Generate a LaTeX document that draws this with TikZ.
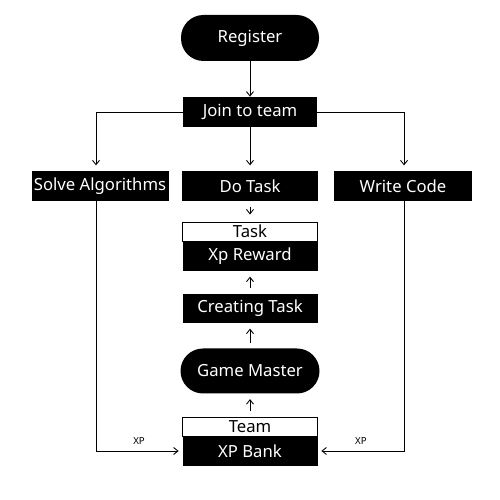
\documentclass[tikz,border=0pt]{standalone}
\usepackage{fontspec}
\setmainfont{Noto Sans}
\usetikzlibrary{arrows.meta}

\tikzset{
    pill/.style={rectangle, rounded corners=0.45cm, fill=black, text=white,
        minimum width=2.76cm, minimum height=0.92cm, font=\fontsize{9.5}{11}\selectfont},
    blackbox/.style={rectangle, fill=black, text=white, minimum width=2.72cm,
        minimum height=0.6cm, inner sep=0pt, font=\fontsize{9.5}{11}\selectfont},
    headbox/.style={rectangle, draw=black, line width=0.5pt, fill=white, minimum width=2.7cm,
        minimum height=0.38cm, inner sep=0pt, font=\fontsize{9.5}{11}\selectfont},
    link/.style={->, >={Straight Barb[length=2.5pt, width=4pt]}, line width=0.5pt},
    xplabel/.style={midway, above, font=\fontsize{5.5}{6}\selectfont},
}

\begin{document}
\begin{tikzpicture}
                \useasboundingbox (0, 0) rectangle (10, 10);

                \node[pill] (register) at (5, 9.24) {Register};
                \node[blackbox, minimum width=2.68cm] (join) at (5, 7.76) {Join to team};

                \node[blackbox, minimum width=2.74cm] (solve) at (2, 6.28) {Solve Algorithms};
                \node[blackbox] (do) at (5, 6.28) {Do Task};
                \node[blackbox, minimum width=2.76cm] (write) at (8.06, 6.28) {Write Code};

                \node[headbox] (task) at (5, 5.37) {Task};
                \node[blackbox, minimum width=2.7cm] (reward) at (5, 4.88) {Xp Reward};

                \node[blackbox, minimum width=2.7cm, minimum height=0.58cm] (creating) at (5, 3.83) {Creating Task};

                \node[pill, minimum width=2.78cm, minimum height=0.9cm] (master) at (5, 2.58) {Game Master};

                \node[headbox] (team) at (5, 1.47) {Team};
                \node[blackbox, minimum width=2.7cm] (bank) at (5, 0.98) {XP Bank};

                \coordinate (jl) at (1.92, 7.76);
                \coordinate (jr) at (8.08, 7.76);
                \coordinate (bl) at (1.92, 0.98);
                \coordinate (br) at (8.08, 0.98);

                \draw[link] (register) -- (join);
                \draw[link, shorten >=3pt] (join) -- (do);
                \draw[link, shorten >=3pt] (join.west) -- (jl) -- (jl |- solve.north);
                \draw[link, shorten >=3pt] (join.east) -- (jr) -- (jr |- write.north);
                \draw[link, shorten >=4pt, shorten <=3pt] (do) -- (task);
                \draw[link, shorten >=3pt, shorten <=3pt] (creating) -- (reward);
                \draw[link, shorten >=3pt, shorten <=3pt] (master) -- (creating);
                \draw[link, shorten >=3pt, shorten <=3pt] (team) -- (master);

                \draw[link, shorten >=2pt] (bl |- solve.south) -- (bl) -- node[xplabel] {XP} (bank.west);
                \draw[link, shorten >=2pt] (br |- write.south) -- (br) -- node[xplabel] {XP} (bank.east);
            \end{tikzpicture}
\end{document}
